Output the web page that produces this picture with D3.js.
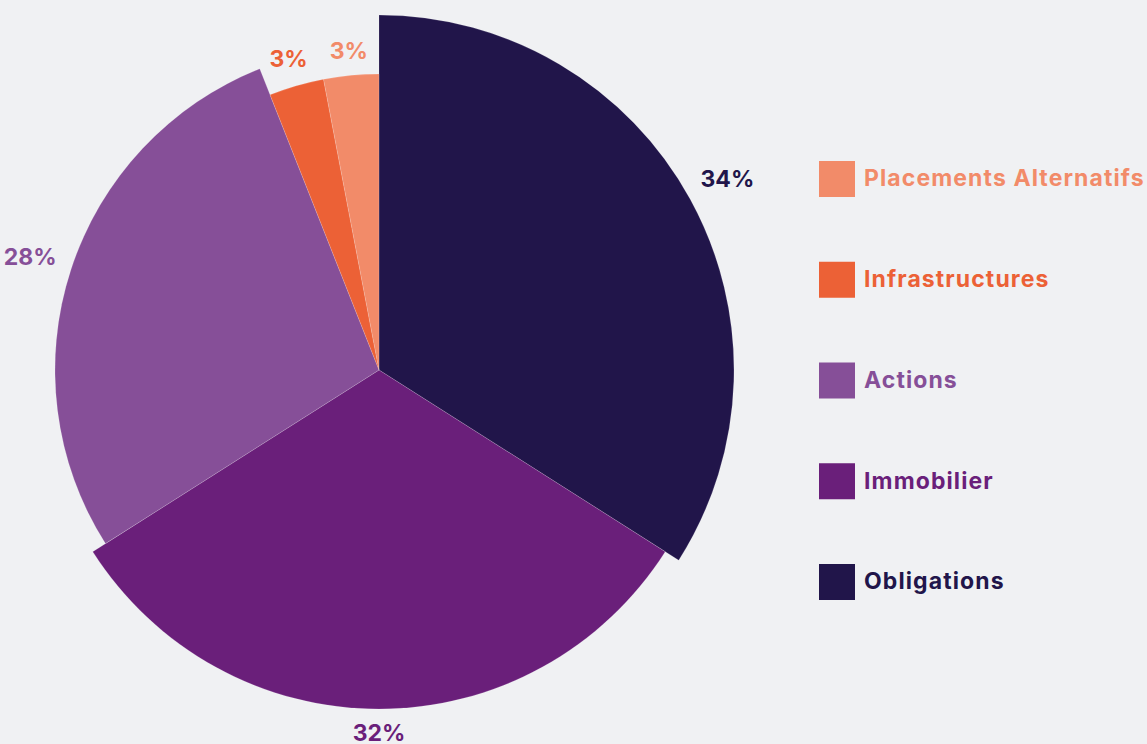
<!DOCTYPE html>
<html>
<head>
<meta charset="utf-8">
<script src="https://cdn.jsdelivr.net/npm/d3@7/dist/d3.min.js"></script>
<style>
  html, body { margin: 0; padding: 0; background: #F0F1F3; }
  svg { display: block; }
  text { font-family: Inter, "Open Sans", sans-serif; font-weight: 700; }
</style>
</head>
<body>
<svg id="chart" width="1147" height="744"></svg>
<script>
// ---- Data ----
const categories = ["Obligations", "Immobilier", "Actions", "Infrastructures", "Placements Alternatifs"];
const values = [34, 32, 28, 3, 3];
const legendOrder = ["Placements Alternatifs", "Infrastructures", "Actions", "Immobilier", "Obligations"];

// ---- Styles ----
const colors = {
  "Obligations": "#21154A",
  "Immobilier": "#6A1F7A",
  "Actions": "#864F98",
  "Infrastructures": "#EC6136",
  "Placements Alternatifs": "#F28B69"
};
const outerRadius = {
  "Obligations": 355,
  "Immobilier": 339,
  "Actions": 324,
  "Infrastructures": 296,
  "Placements Alternatifs": 296
};
const cx = 379, cy = 370;
const fontSize = 23;
const capH = fontSize * 0.727;

const data = categories.map((c, i) => ({ name: c, value: values[i] }));
const total = d3.sum(values);

const svg = d3.select("#chart");
const g = svg.append("g").attr("transform", `translate(${cx},${cy})`);

const pie = d3.pie().sort(null).value(d => d.value).startAngle(0).endAngle(2 * Math.PI);
const arcs = pie(data);

const arc = d3.arc().innerRadius(0).outerRadius(d => outerRadius[d.data.name]);

g.selectAll("path.slice")
  .data(arcs)
  .enter().append("path")
  .attr("class", "slice")
  .attr("d", arc)
  .attr("fill", d => colors[d.data.name])
  .attr("stroke", "rgba(255,255,255,0.25)")
  .attr("stroke-width", 0.6);

// labels
const labels = g.selectAll("text.lbl")
  .data(arcs)
  .enter().append("text")
  .attr("class", "lbl")
  .attr("text-anchor", "middle")
  .attr("font-size", fontSize)
  .attr("fill", d => colors[d.data.name])
  .text(d => Math.round(d.data.value / total * 100) + "%");

labels.each(function(d) {
  const bb = this.getBBox();
  const a = (d.startAngle + d.endAngle) / 2;
  const s = Math.sin(a), c = -Math.cos(a);
  const ext = bb.width / 2 * Math.abs(s) + capH / 2 * Math.abs(c);
  const r = outerRadius[d.data.name] + 15 + ext;
  const x = s * r, y = c * r;
  d3.select(this).attr("x", x).attr("y", y + capH / 2);
});

// legend
const legendY = d3.scalePoint().domain(legendOrder).range([161, 564]);
const lg = svg.append("g");
const items = lg.selectAll("g.item")
  .data(legendOrder)
  .enter().append("g")
  .attr("class", "item")
  .attr("transform", d => `translate(819,${legendY(d)})`);
items.append("rect")
  .attr("width", 36).attr("height", 36)
  .attr("fill", d => colors[d]);
items.append("text")
  .attr("x", 45)
  .attr("y", 18 + capH / 2 - 1)
  .attr("font-size", fontSize)
  .attr("letter-spacing", 1.1)
  .attr("fill", d => colors[d])
  .text(d => d);
</script>
</body>
</html>
